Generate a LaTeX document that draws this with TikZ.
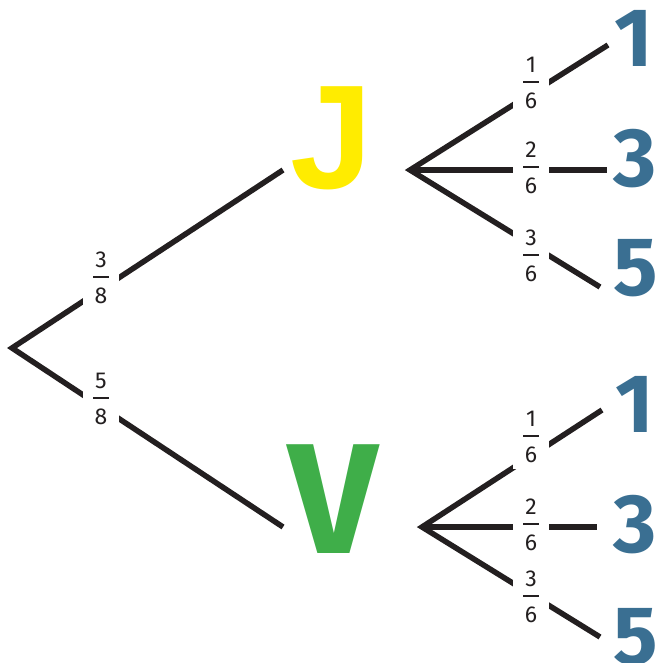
\documentclass[tikz,border=0pt]{standalone}
\usepackage{fontspec}
\setmainfont{Fira Sans}
\newfontfamily\jfont{Liberation Sans}
\definecolor{leafblue}{HTML}{3A6F92}
\definecolor{jyellow}{HTML}{FFEC00}
\definecolor{vgreen}{HTML}{3FAE49}
\definecolor{branchblack}{HTML}{231F20}
\newcommand\fracstack[2]{\vbox{\offinterlineskip
  \hbox to 20pt{\hss#1\hss}\kern8.5pt
  \hbox to 20pt{\hss\color{branchblack}\vrule width 16pt height 1.6pt\hss}\kern10pt
  \hbox to 20pt{\hss#2\hss}}}
\tikzset{
  branch/.style={draw=branchblack, line width=5.5pt, line cap=butt, line join=miter},
  fracbox/.style={fill=white, inner sep=0pt, minimum width=36pt, minimum height=64pt,
    font=\fontsize{23}{25}\selectfont, text=branchblack},
  leaf/.style={inner sep=0pt, text=leafblue, font=\bfseries\fontsize{83}{90}\selectfont},
  bigletter/.style={inner sep=0pt, font=\bfseries\fontsize{157}{170}\selectfont}
}
\begin{document}
\begin{tikzpicture}[x=1pt,y=-1pt]
\useasboundingbox (0,0) rectangle (657,663);
\clip (0,0) rectangle (657,663);
% coordinates
\coordinate (root) at (12,348);
\coordinate (jin) at (283,170);
\coordinate (vin) at (283,527);
\coordinate (jtip) at (410,170);
\coordinate (vtip) at (422,527);
\coordinate (j1) at (608,45);
\coordinate (j3) at (607,170);
\coordinate (j5) at (600,287);
\coordinate (v1) at (602,410);
\coordinate (v3) at (597,527);
\coordinate (v5) at (600,637);
% letters and leaves
\node[bigletter, text=jyellow, font=\jfont\bfseries\fontsize{148}{160}\selectfont] (J) at (332,138) {J};
\node[bigletter, text=vgreen] (V) at (333,499) {V};
\node[leaf] (L1) at (634,38) {1};
\node[leaf] (L3) at (635,159) {3};
\node[leaf] (L5) at (636,268) {5};
\node[leaf] (M1) at (635,404) {1};
\node[leaf] (M3) at (635,525) {3};
\node[leaf] (M5) at (636,637) {5};
% branches
\path[branch] (jin) -- (root) -- (vin);
\path[branch] (j1) -- (jtip) -- (j5);
\path[branch] (jtip) -- (j3);
\path[branch] (v1) -- (vtip) -- (v5);
\path[branch] (vtip) -- (v3);
% probabilities
\node[fracbox] (p38) at (101,278) {\fracstack{3}{8}};
\node[fracbox] (p58) at (101,399) {\fracstack{5}{8}};
\node[fracbox] (pj1) at (531,83) {\fracstack{1}{6}};
\node[fracbox] (pj2) at (531,168) {\fracstack{2}{6}};
\node[fracbox] (pj3) at (531,256) {\fracstack{3}{6}};
\node[fracbox] (pv1) at (531,437) {\fracstack{1}{6}};
\node[fracbox] (pv2) at (531,525) {\fracstack{2}{6}};
\node[fracbox] (pv3) at (531,597) {\fracstack{3}{6}};
\end{tikzpicture}
\end{document}
